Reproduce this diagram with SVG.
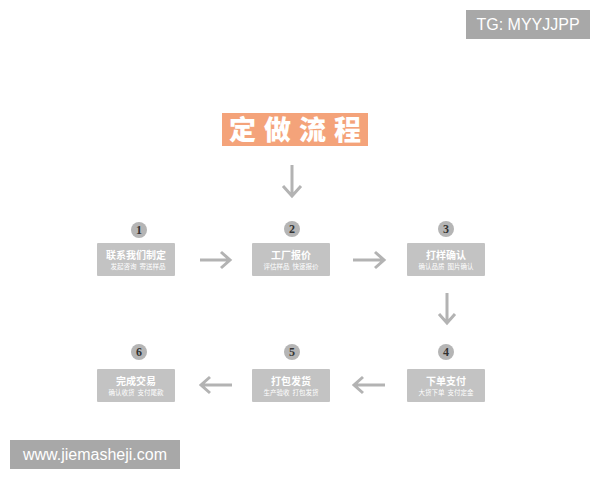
<svg xmlns="http://www.w3.org/2000/svg" width="600" height="480" viewBox="0 0 600 480">
<style>
.box{fill:#c3c3c3;}
.num{fill:#b5b5b5;}
.numt{font-family:"Liberation Serif",serif;font-size:12px;font-weight:bold;fill:#333;text-anchor:middle;}
.t1{font-family:"Noto Sans CJK SC",sans-serif;font-size:10px;font-weight:bold;fill:#fff;text-anchor:middle;}
.t2{font-family:"Noto Sans CJK SC",sans-serif;font-size:6.5px;fill:#fff;text-anchor:middle;}
.arr{stroke:#b3b3b3;stroke-width:3;fill:none;stroke-linecap:butt;}
.wm{fill:#a8a8a8;}
.wmt{font-family:"Liberation Sans",Arial,sans-serif;font-size:16px;fill:#fff;}
</style>
<rect width="600" height="480" fill="#ffffff"/>
<g id="tg"><rect class="wm" x="466" y="10" width="124" height="29"/><text class="wmt" x="528" y="30" text-anchor="middle">TG: MYYJJPP</text></g>
<g id="www"><rect class="wm" x="10" y="440" width="170" height="29"/><text class="wmt" x="95" y="460" text-anchor="middle">www.jiemasheji.com</text></g>
<g id="title"><rect x="222" y="113" width="146" height="33" fill="#f4a37a"/><text x="299" y="140" font-family="Noto Sans CJK SC,sans-serif" font-size="27" font-weight="900" fill="#fff" text-anchor="middle" letter-spacing="8">定做流程</text></g>
<g id="n1"><circle class="num" cx="139" cy="230" r="8"/><text class="numt" x="139" y="234">1</text><rect class="box" x="97" y="243" width="78" height="33" rx="1"/><text class="t1" x="136" y="259">联系我们制定</text><text class="t2" x="138" y="269" xml:space="preserve">发起咨询  寄送样品</text></g>
<g id="n2"><circle class="num" cx="292" cy="229" r="8"/><text class="numt" x="292" y="233">2</text><rect class="box" x="252" y="243" width="78" height="33" rx="1"/><text class="t1" x="291" y="259">工厂报价</text><text class="t2" x="291" y="269" xml:space="preserve">评估样品  快速报价</text></g>
<g id="n3"><circle class="num" cx="446" cy="229" r="8"/><text class="numt" x="446" y="233">3</text><rect class="box" x="407" y="243" width="78" height="33" rx="1"/><text class="t1" x="446" y="259">打样确认</text><text class="t2" x="446" y="269" xml:space="preserve">确认品质  图片确认</text></g>
<g id="n4"><circle class="num" cx="446" cy="352" r="8"/><text class="numt" x="446" y="356">4</text><rect class="box" x="407" y="369" width="78" height="33" rx="1"/><text class="t1" x="446" y="385">下单支付</text><text class="t2" x="446" y="395" xml:space="preserve">大货下单  支付定金</text></g>
<g id="n5"><circle class="num" cx="292" cy="352" r="8"/><text class="numt" x="292" y="356">5</text><rect class="box" x="252" y="369" width="78" height="33" rx="1"/><text class="t1" x="291" y="385">打包发货</text><text class="t2" x="291" y="395" xml:space="preserve">生产验收  打包发货</text></g>
<g id="n6"><circle class="num" cx="139" cy="352" r="8"/><text class="numt" x="139" y="356">6</text><rect class="box" x="97" y="369" width="78" height="33" rx="1"/><text class="t1" x="136" y="385">完成交易</text><text class="t2" x="136" y="395" xml:space="preserve">确认收货  支付尾款</text></g>
<g id="connectors">
<path class="arr" d="M292 165 V196 M283 186 L292 196 L301 186"/>
<path class="arr" d="M200 260 H230 M221 252 L230 260 L221 268"/>
<path class="arr" d="M353 260 H384 M375 252 L384 260 L375 268"/>
<path class="arr" d="M447 293 V323 M439 314 L447 323 L455 314"/>
<path class="arr" d="M385 385 H354 M363 377 L354 385 L363 393"/>
<path class="arr" d="M232 385 H201 M210 377 L201 385 L210 393"/>
</g>
</svg>
